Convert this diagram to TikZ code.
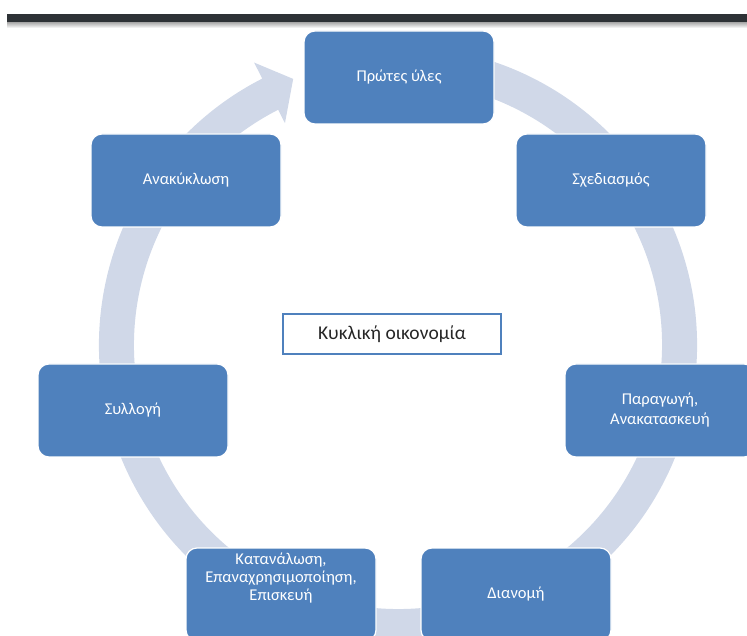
\documentclass[tikz,border=0pt]{standalone}
\usepackage{fontspec}
\setmainfont{Carlito}
\usetikzlibrary{calc}
\definecolor{boxblue}{HTML}{4F81BD}
\definecolor{ringc}{HTML}{D0D8E8}
\definecolor{barc}{HTML}{2E3236}
\tikzset{
  stage/.style={rectangle, rounded corners=11pt, fill=boxblue, draw=white,
    line width=1.2pt, minimum width=190pt, minimum height=93pt,
    text=white, align=center, font=\fontsize{16.5}{20}\selectfont, inner sep=2pt},
  stagetext/.style={text=white, align=center, font=\fontsize{16.5}{17.8}\selectfont, inner sep=0pt},
  hub/.style={rectangle, fill=white, draw=boxblue, line width=2.4pt,
    minimum width=218pt, minimum height=40pt, text=black!85,
    font=\fontsize{19.5}{22}\selectfont}
}
\begin{document}
\begin{tikzpicture}[x=1pt,y=1pt]
  \useasboundingbox (0,0) rectangle (747,635);
  \clip (0,0) rectangle (747,635);

  % top rule with a soft shadow beneath
  \shade[top color=black!35, bottom color=white] (7,607) rectangle (747,613);
  \fill[barc] (7,613) rectangle (747,621);

  % circular arrow running clockwise behind the stages
  \coordinate (C) at (398,290);
  \fill[ringc]
    ($(C)+(75:299pt)$) arc[start angle=75, end angle=-243, radius=299pt]
    -- ($(C)+(-243:317pt)$)
    -- ($(C)+(-248.5:286pt)$)
    -- ($(C)+(-243:249pt)$)
    -- ($(C)+(-243:264pt)$) arc[start angle=-243, end angle=75, radius=264pt]
    -- cycle;

  % stages of the cycle
  \node[stage] (raw)     at (399,557.5) {Πρώτες ύλες};
  \node[stage] (design)  at (611,454.5) {Σχεδιασμός};
  \node[stage] (prod)    at (660,224.5) {Παραγωγή,\\Ανακατασκευή};
  \node[stage] (dist)    at (516,40.5)  {Διανομή};
  \node[stage] (consume) at (281,40.5)  {};
  \node[stagetext] (consumetext) at (281,57) {Κατανάλωση,\\Επαναχρησιμοποίηση,\\Επισκευή};
  \node[stage] (collect) at (133,224.5) {Συλλογή};
  \node[stage] (recycle) at (186,454.5) {Ανακύκλωση};

  % title in the middle
  \node[hub] (title) at (392,301) {Κυκλική οικονομία};
\end{tikzpicture}
\end{document}
